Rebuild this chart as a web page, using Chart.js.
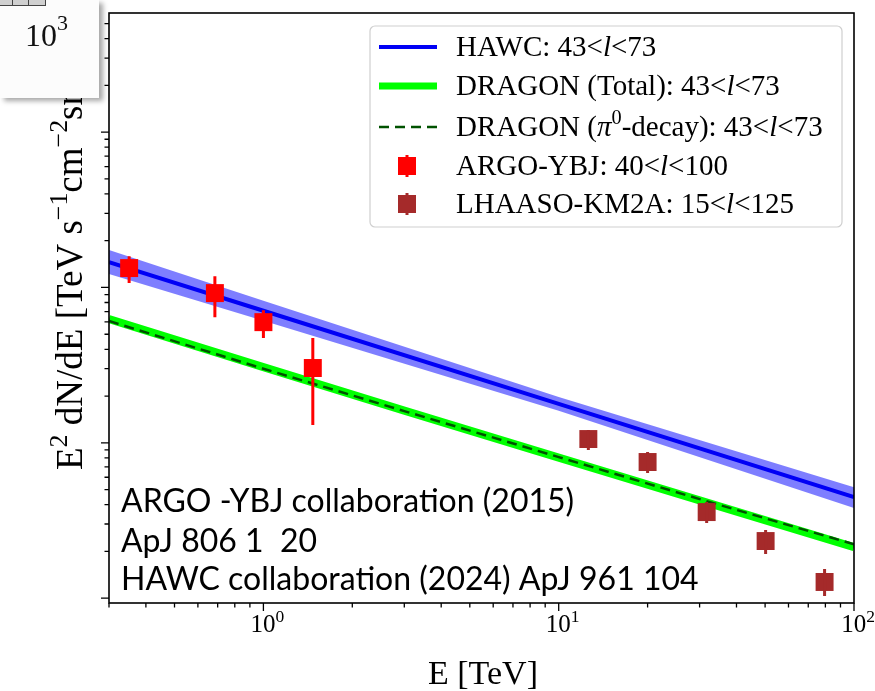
<!DOCTYPE html>
<html>
<head>
<meta charset="utf-8">
<script src="https://cdn.jsdelivr.net/npm/chart.js@4/dist/chart.umd.min.js"></script>
<style>
  html, body { margin: 0; padding: 0; background: #ffffff; }
  #wrap { position: relative; width: 875px; height: 691px; overflow: hidden; }
  #c { position: absolute; left: 0; top: 0; }
  #inset {
    position: absolute; left: 0; top: 0; width: 99px; height: 98px;
    background: #fcfcfc;
    box-shadow: 4px 3px 5px rgba(0,0,0,0.35);
    font-family: "Liberation Serif", serif; color: #111;
  }
  #inset .row { position: absolute; left: 0; top: 0; width: 45px; height: 5px;
    background: #d0d0d0; border-bottom: 1px solid #444; border-right: 1px solid #444; }
  #inset .row i { position: absolute; top: 0; width: 1px; height: 5px; background: #444; }
  #inset .lbl { position: absolute; left: 25px; top: 16px; font-size: 32px; line-height: 1; }
  #inset .lbl sup { font-size: 22px; position: relative; top: -4px; }
</style>
</head>
<body>
<div id="wrap">
  <canvas id="c" width="875" height="691"></canvas>
  <div id="inset"><div class="row"><i style="left:12px"></i><i style="left:28px"></i></div><div class="lbl">10<sup>3</sup></div></div>
</div>
<script>
// ---- spectra: E [TeV] and E^2 dN/dE [TeV s^-1 cm^-2 sr^-1] ----
const hawcE      = [0.3, 1, 10, 100];
const hawcFlux   = [1.457e-7, 7.08e-8, 1.78e-8, 4.47e-9];
const hawcUpper  = [1.741e-7, 8.21e-8, 1.975e-8, 5.18e-9];
const hawcLower  = [1.220e-7, 6.10e-8, 1.605e-8, 3.80e-9];

const dragonE     = [0.3, 1, 3, 10, 30, 100];
const dragonTotal = [6.26e-8, 3.07e-8, 1.61e-8, 8.03e-9, 4.26e-9, 2.13e-9];
const dragonPi0   = [6.08e-8, 3.00e-8, 1.60e-8, 8.09e-9, 4.34e-9, 2.22e-9];

const argoE     = [0.351, 0.685, 1.0, 1.47];
const argoFlux  = [1.333e-7, 9.2e-8, 5.98e-8, 3.03e-8];
const argoLo    = [1.067e-7, 6.44e-8, 4.72e-8, 1.30e-8];
const argoHi    = [1.59e-7, 1.18e-7, 7.14e-8, 4.72e-8];

const lhaasoE    = [12.6, 20.0, 31.7, 50.2, 79.5];
const lhaasoFlux = [1.057e-8, 7.52e-9, 3.58e-9, 2.33e-9, 1.27e-9];
const lhaasoLo   = [8.97e-9, 6.38e-9, 3.04e-9, 1.92e-9, 1.03e-9];
const lhaasoHi   = [1.208e-8, 8.71e-9, 4.15e-9, 2.74e-9, 1.54e-9];

// ---- axis tick labels (decades on the energy axis) ----
const xTickValues = [1, 10, 100];
const xTickExponents = ['0', '1', '2'];

// ---- legend entries (rich text: it = italic, sup = superscript) ----
const legendLabels = [
  [{t:'HAWC: 43<'}, {t:'l', it:true}, {t:'<73'}],
  [{t:'DRAGON (Total): 43<'}, {t:'l', it:true}, {t:'<73'}],
  [{t:'DRAGON ('}, {t:'π', it:true}, {t:'0', sup:true}, {t:'-decay): 43<'}, {t:'l', it:true}, {t:'<73'}],
  [{t:'ARGO-YBJ: 40<'}, {t:'l', it:true}, {t:'<100'}],
  [{t:'LHAASO-KM2A: 15<'}, {t:'l', it:true}, {t:'<125'}]
];
const notes = [
  'ARGO -YBJ collaboration (2015)',
  'ApJ 806 1  20',
  'HAWC collaboration (2024) ApJ 961 104'
];

const pts = (xs, ys) => xs.map((x, i) => ({x: x, y: ys[i]}));
const SERIF = '"Liberation Serif", "DejaVu Serif", serif';

function richText(ctx, parts, x, y, size, family, align) {
  const fontFor = p => (p.it ? 'italic ' : '') + (p.sup ? size * 0.7 : size) + 'px ' + family;
  let w = 0;
  parts.forEach(p => { ctx.font = fontFor(p); w += ctx.measureText(p.t).width; });
  let cx = align === 'center' ? x - w / 2 : (align === 'right' ? x - w : x);
  ctx.textAlign = 'left';
  ctx.textBaseline = 'alphabetic';
  parts.forEach(p => {
    ctx.font = fontFor(p);
    ctx.fillText(p.t, cx, p.sup ? y - size * 0.4 : y);
    cx += ctx.measureText(p.t).width;
  });
  return w;
}

// error bars for the measured points
const errorBars = {
  id: 'errorBars',
  afterDatasetsDraw(chart) {
    const {ctx, chartArea: a, scales: {x, y}} = chart;
    const sets = [
      {idx: 0, e: argoE, lo: argoLo, hi: argoHi},
      {idx: 1, e: lhaasoE, lo: lhaasoLo, hi: lhaasoHi}
    ];
    ctx.save();
    ctx.beginPath(); ctx.rect(a.left, a.top, a.right - a.left, a.bottom - a.top); ctx.clip();
    sets.forEach(s => {
      ctx.strokeStyle = chart.data.datasets[s.idx].backgroundColor;
      ctx.lineWidth = 3;
      ctx.beginPath();
      s.e.forEach((e, i) => {
        const px = x.getPixelForValue(e);
        ctx.moveTo(px, y.getPixelForValue(s.lo[i]));
        ctx.lineTo(px, y.getPixelForValue(s.hi[i]));
      });
      ctx.stroke();
    });
    ctx.restore();
  }
};

// frame, log ticks, axis titles, legend and the reference notes
const decorations = {
  id: 'decorations',
  afterDraw(chart) {
    const {ctx, chartArea: a, scales: {x, y}} = chart;
    ctx.save();
    ctx.fillStyle = '#000'; ctx.strokeStyle = '#000';

    // log tick marks
    const logTicks = (scale) => {
      const out = [];
      const d0 = Math.floor(Math.log10(scale.min)), d1 = Math.ceil(Math.log10(scale.max));
      for (let d = d0; d <= d1; d++) {
        for (let k = 1; k <= 9; k++) {
          const v = k * Math.pow(10, d);
          if (v >= scale.min * 0.9999 && v <= scale.max * 1.0001) out.push({v: v, major: k === 1});
        }
      }
      return out;
    };
    ctx.lineWidth = 1.3;
    ctx.beginPath();
    logTicks(x).forEach(t => {
      const px = x.getPixelForValue(t.v);
      ctx.moveTo(px, a.bottom); ctx.lineTo(px, a.bottom + (t.major ? 8 : 4.5));
    });
    logTicks(y).forEach(t => {
      const py = y.getPixelForValue(t.v);
      ctx.moveTo(a.left, py); ctx.lineTo(a.left - (t.major ? 8 : 4.5), py);
    });
    ctx.stroke();

    // frame
    ctx.lineWidth = 1.6;
    ctx.strokeRect(a.left, a.top, a.right - a.left, a.bottom - a.top);

    // x tick labels
    xTickValues.forEach((v, i) => {
      richText(ctx, [{t:'10'}, {t:xTickExponents[i], sup:true}], x.getPixelForValue(v) + 4, 632, 25, SERIF, 'center');
    });
    // axis titles
    richText(ctx, [{t:'E [TeV]'}], 483, 684, 34, SERIF, 'center');
    ctx.save();
    ctx.translate(82, 470);
    ctx.rotate(-Math.PI / 2);
    richText(ctx, [{t:'E'}, {t:'2', sup:true}, {t:' dN/dE [TeV s'}, {t:'−1', sup:true}, {t:'cm'}, {t:'−2', sup:true}, {t:'sr'}, {t:'−1', sup:true}, {t:']'}], 0, 0, 37, SERIF, 'left');
    ctx.restore();

    // legend
    const lx = 370, ly = 26, lw = 472, lh = 201;
    ctx.fillStyle = 'rgba(255,255,255,0.85)';
    ctx.strokeStyle = '#cfcfcf';
    ctx.lineWidth = 1.2;
    ctx.beginPath(); ctx.roundRect(lx, ly, lw, lh, 5); ctx.fill(); ctx.stroke();
    const rows = [47, 86, 127, 166, 204];
    const entries = [4, 3, 2, 0, 1];
    entries.forEach((di, r) => {
      const ds = chart.data.datasets[di];
      const cy = rows[r];
      ctx.save();
      if (ds.showLine === false) {
        ctx.fillStyle = ds.backgroundColor; ctx.strokeStyle = ds.backgroundColor;
        ctx.lineWidth = 3;
        ctx.beginPath(); ctx.moveTo(407, cy - 11); ctx.lineTo(407, cy + 11); ctx.stroke();
        ctx.fillRect(407 - 9, cy - 9, 18, 18);
      } else {
        ctx.strokeStyle = ds.borderColor;
        ctx.lineWidth = ds.borderWidth === 8 ? 7 : ds.borderWidth;
        ctx.setLineDash(ds.borderDash || []);
        ctx.beginPath(); ctx.moveTo(379, cy); ctx.lineTo(437, cy); ctx.stroke();
      }
      ctx.restore();
      ctx.fillStyle = '#000';
      richText(ctx, legendLabels[r], 456, cy + 9, 29, SERIF, 'left');
    });

    // reference notes
    ctx.fillStyle = '#000';
    notes.forEach((s, i) => {
      ctx.font = '32px Lato, "Open Sans", sans-serif';
      ctx.textAlign = 'left'; ctx.textBaseline = 'alphabetic';
      ctx.fillText(s, 121, [512, 552, 590][i]);
    });
    ctx.restore();
  }
};

new Chart(document.getElementById('c'), {
  type: 'line',
  data: {
    datasets: [
      { label: 'ARGO-YBJ', data: pts(argoE, argoFlux), showLine: false,
        pointStyle: 'rect', pointRadius: 12.7, pointHoverRadius: 12.7,
        backgroundColor: '#ff0000', borderColor: '#ff0000', pointBorderWidth: 0 },
      { label: 'LHAASO-KM2A', data: pts(lhaasoE, lhaasoFlux), showLine: false,
        pointStyle: 'rect', pointRadius: 12.7, pointHoverRadius: 12.7,
        backgroundColor: '#a52a2a', borderColor: '#a52a2a', pointBorderWidth: 0 },
      { label: 'DRAGON (pi0-decay)', data: pts(dragonE, dragonPi0), borderColor: '#005200',
        borderWidth: 2.5, borderDash: [10, 6], pointRadius: 0, fill: false },
      { label: 'DRAGON (Total)', data: pts(dragonE, dragonTotal), borderColor: '#00ff00',
        borderWidth: 8, pointRadius: 0, fill: false },
      { label: 'HAWC', data: pts(hawcE, hawcFlux), borderColor: '#0000f5',
        borderWidth: 4, pointRadius: 0, fill: false },
      { label: 'HAWC band upper', data: pts(hawcE, hawcUpper), borderWidth: 0,
        borderColor: 'rgba(0,0,0,0)', pointRadius: 0, fill: '+1',
        backgroundColor: 'rgba(20,20,255,0.55)' },
      { label: 'HAWC band lower', data: pts(hawcE, hawcLower), borderWidth: 0,
        borderColor: 'rgba(0,0,0,0)', pointRadius: 0, fill: false }
    ]
  },
  options: {
    responsive: false,
    animation: false,
    devicePixelRatio: 1,
    layout: { padding: { left: 109, top: 13, right: 21, bottom: 88 } },
    elements: { line: { tension: 0 } },
    plugins: { legend: { display: false }, tooltip: { enabled: false }, title: { display: false } },
    scales: {
      x: { type: 'logarithmic', min: 0.3, max: 100, display: false },
      y: { type: 'logarithmic', min: 9.3e-10, max: 5.85e-6, display: false }
    }
  },
  plugins: [errorBars, decorations]
});
</script>
</body>
</html>
